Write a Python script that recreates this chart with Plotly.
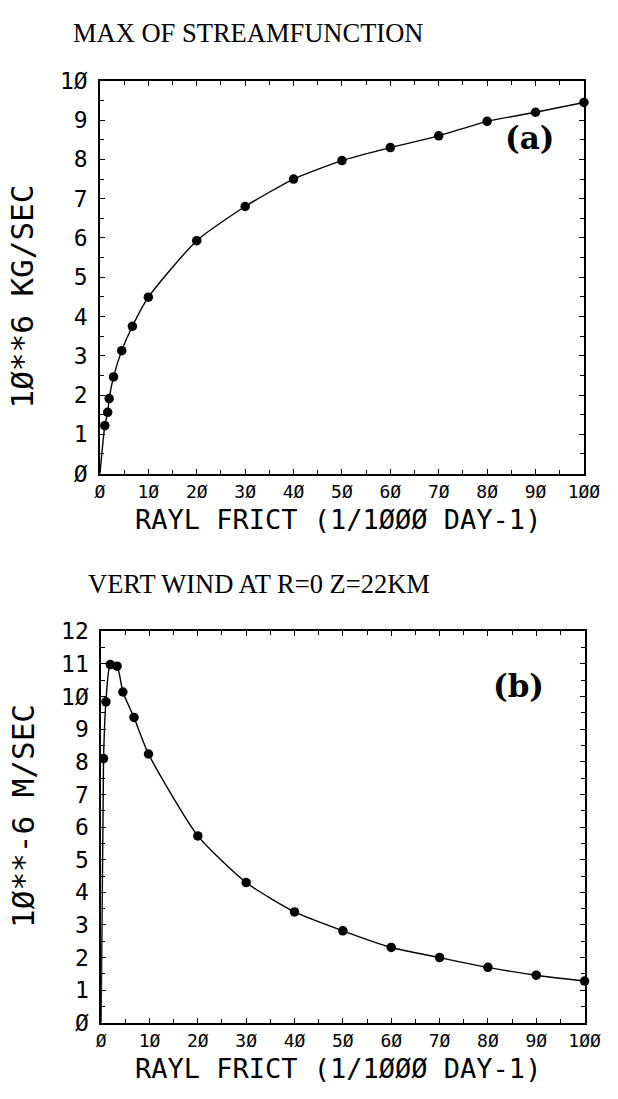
import plotly.graph_objects as go

# ---- data ----
fric_a = [1.0, 1.6, 1.9, 2.8, 4.5, 6.7, 10, 20, 30, 40, 50, 60, 70, 80, 90, 100]
psi_max = [1.22, 1.56, 1.91, 2.46, 3.13, 3.75, 4.49, 5.93, 6.8, 7.5, 7.97, 8.3, 8.6, 8.97, 9.2, 9.45]

fric_b = [0.5, 1.0, 1.9, 3.3, 4.5, 6.8, 9.8, 20, 30, 40, 50, 60, 70, 80, 90, 100]
w_vert = [8.1, 9.84, 10.98, 10.93, 10.14, 9.36, 8.24, 5.73, 4.3, 3.40, 2.82, 2.31, 2.0, 1.70, 1.46, 1.28]

x_tickvals = [0, 10, 20, 30, 40, 50, 60, 70, 80, 90, 100]
x_ticktext = ["Ø", "1Ø", "2Ø", "3Ø", "4Ø", "5Ø", "6Ø", "7Ø", "8Ø", "9Ø", "1ØØ"]
ya_tickvals = list(range(0, 11))
ya_ticktext = ["Ø", "1", "2", "3", "4", "5", "6", "7", "8", "9", "1Ø"]
yb_tickvals = list(range(0, 13))
yb_ticktext = ["Ø", "1", "2", "3", "4", "5", "6", "7", "8", "9", "1Ø", "11", "12"]

title_a = "MAX OF STREAMFUNCTION"
title_b = "VERT WIND AT R=0 Z=22KM"
xlab = "RAYL FRICT (1/1ØØØ DAY-1)"
ylab_a = "1Ø**6 KG/SEC"
ylab_b = "1Ø**-6 M/SEC"

W, H = 618, 1099
MONO = "DejaVu Sans Mono"
SERIF = "Liberation Serif"
BOLDSERIF = "DejaVu Serif"

fig = go.Figure()

# curves (start from origin)
fig.add_trace(go.Scatter(x=[0] + fric_a, y=[0] + psi_max, mode="lines",
                         line=dict(color="black", width=1.4, shape="spline", smoothing=0.6),
                         xaxis="x", yaxis="y", showlegend=False, hoverinfo="skip"))
fig.add_trace(go.Scatter(x=fric_a, y=psi_max, mode="markers",
                         marker=dict(color="black", size=9.5),
                         xaxis="x", yaxis="y", showlegend=False, cliponaxis=False))
fig.add_trace(go.Scatter(x=[0] + fric_b, y=[0] + w_vert, mode="lines",
                         line=dict(color="black", width=1.4, shape="spline", smoothing=0.6),
                         xaxis="x2", yaxis="y2", showlegend=False, hoverinfo="skip"))
fig.add_trace(go.Scatter(x=fric_b, y=w_vert, mode="markers",
                         marker=dict(color="black", size=9.5),
                         xaxis="x2", yaxis="y2", showlegend=False, cliponaxis=False))

def px_x(p):
    return p / W

def px_y(p):
    return 1 - p / H

def axis(minor_dtick, **kw):
    d = dict(showline=True, linecolor="black", linewidth=1.5, mirror="ticks",
             ticks="inside", ticklen=5, tickwidth=1.2, tickcolor="black",
             showgrid=False, zeroline=False,
             minor=dict(ticks="inside", ticklen=4, tickwidth=1.2, tickcolor="black",
                        showgrid=False, dtick=minor_dtick, tick0=0))
    d.update(kw)
    return d

fig.update_layout(
    width=W, height=H, margin=dict(l=0, r=0, t=0, b=0),
    paper_bgcolor="white", plot_bgcolor="white",
    xaxis=axis(5, domain=[px_x(98.3), px_x(599.3)], range=[0, 100], anchor="y",
               tickvals=x_tickvals, ticktext=x_ticktext, ticklabelstandoff=1,
               ticklabeloverflow="allow",
               tickfont=dict(family=MONO, size=18, color="black")),
    yaxis=axis(0.5, domain=[px_y(471.7), px_y(69.5)], range=[0, 10], anchor="x",
               tickvals=ya_tickvals, ticktext=ya_ticktext, ticklabelstandoff=6,
               tickfont=dict(family=MONO, size=23, color="black")),
    xaxis2=axis(5, domain=[px_x(99.5), px_x(600)], range=[0, 100], anchor="y2",
                tickvals=x_tickvals, ticktext=x_ticktext, ticklabelstandoff=1,
                ticklabeloverflow="allow",
                tickfont=dict(family=MONO, size=18, color="black")),
    yaxis2=axis(0.5, domain=[px_y(1034.3), px_y(633.3)], range=[0, 12], anchor="x2",
                tickvals=yb_tickvals, ticktext=yb_ticktext, ticklabelstandoff=6,
                tickfont=dict(family=MONO, size=23, color="black")),
)

ann = []
ann.append(dict(text=title_a, x=px_x(252), y=px_y(20), xref="paper", yref="paper",
                showarrow=False, xanchor="center", yanchor="middle",
                font=dict(family=SERIF, size=26.5, color="black")))
ann.append(dict(text=title_b, x=px_x(263), y=px_y(585), xref="paper", yref="paper",
                showarrow=False, xanchor="center", yanchor="middle",
                font=dict(family=SERIF, size=26.5, color="black")))
for yy in (519, 1081):
    ann.append(dict(text=xlab, x=px_x(345), y=px_y(yy), xref="paper", yref="paper",
                    showarrow=False, xanchor="center", yanchor="middle",
                    font=dict(family=MONO, size=27, color="black")))
ann.append(dict(text=ylab_a, x=px_x(18), y=px_y(290), xref="paper", yref="paper",
                showarrow=False, xanchor="center", yanchor="middle", textangle=-90,
                font=dict(family=MONO, size=31, color="black")))
ann.append(dict(text=ylab_b, x=px_x(18), y=px_y(822), xref="paper", yref="paper",
                showarrow=False, xanchor="center", yanchor="middle", textangle=-90,
                font=dict(family=MONO, size=31, color="black")))
ann.append(dict(text="<b>(a)</b>", x=px_x(543), y=px_y(128), xref="paper", yref="paper",
                showarrow=False, xanchor="center", yanchor="middle",
                font=dict(family=BOLDSERIF, size=31, color="black")))
ann.append(dict(text="<b>(b)</b>", x=px_x(532), y=px_y(689), xref="paper", yref="paper",
                showarrow=False, xanchor="center", yanchor="middle",
                font=dict(family=BOLDSERIF, size=31, color="black")))
fig.update_layout(annotations=ann)

fig.write_html("out.html")
